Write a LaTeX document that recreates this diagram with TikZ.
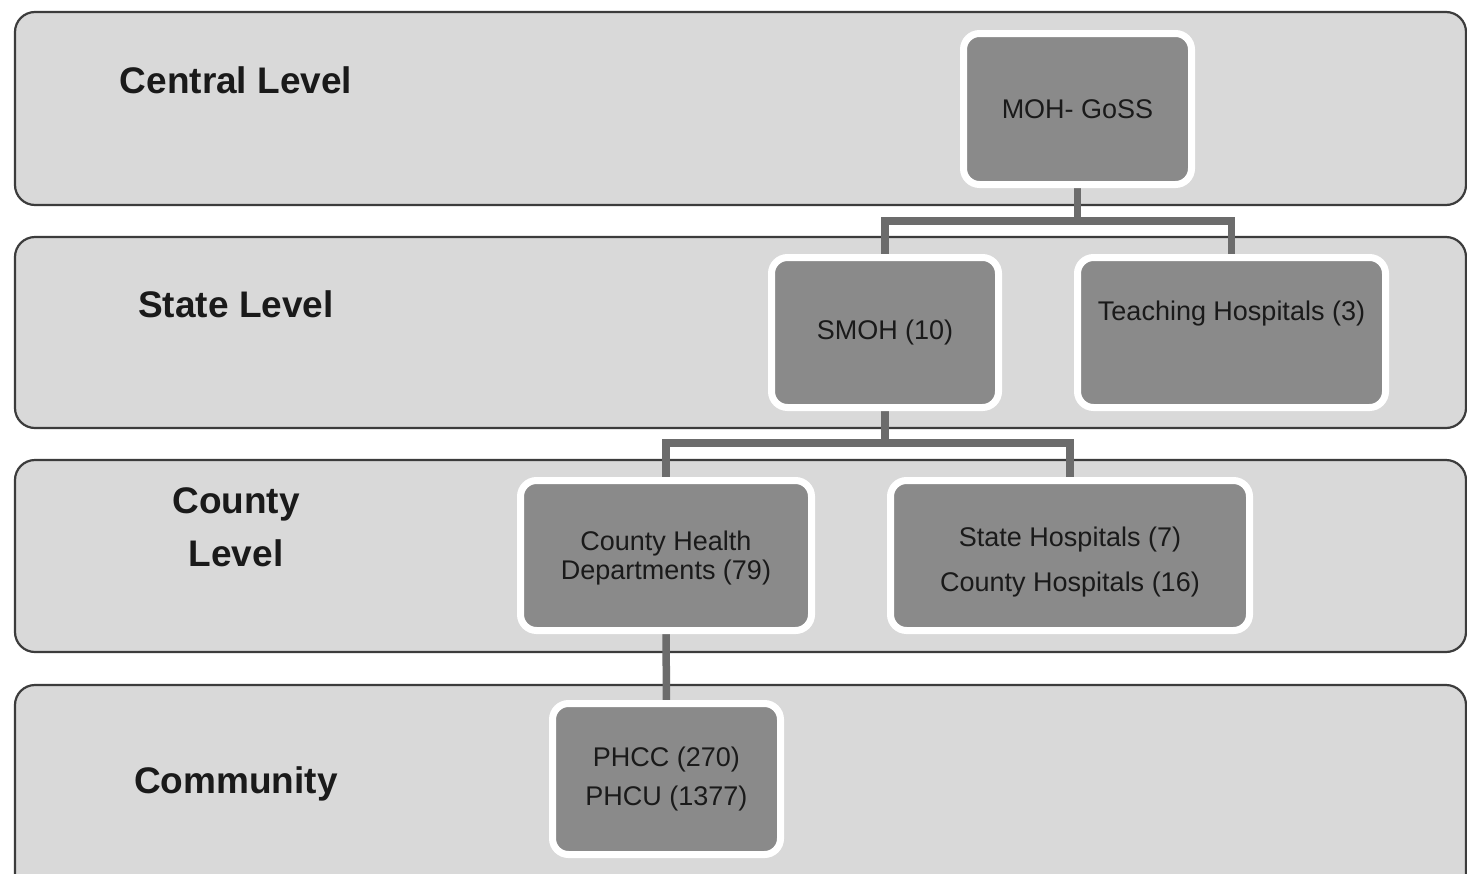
\documentclass[tikz,border=0pt]{standalone}
\usepackage{fontspec}
\setmainfont{Liberation Sans}
\definecolor{bandfill}{HTML}{D9D9D9}
\definecolor{bandline}{HTML}{3C3C3C}
\definecolor{boxfill}{HTML}{8A8A8A}
\definecolor{connc}{HTML}{6C6C6C}
\definecolor{txt}{HTML}{1A1A1A}
\begin{document}
\begin{tikzpicture}[x=1pt,y=-1pt,
  band/.style={fill=bandfill,draw=bandline,line width=2.2pt,rounded corners=20pt},
  lvl/.style={font=\fontsize{37}{53}\selectfont\bfseries,text=txt,align=center},
  orgbox/.style={fill=boxfill,draw=white,line width=7pt,rounded corners=16pt,
    font=\fontsize{27}{29}\selectfont,text=txt,align=center,inner sep=0pt,outer sep=0pt},
  ghost/.style={orgbox,fill=none,draw=none},
  conn/.style={draw=connc,line width=7.5pt}]
\clip (0,0) rectangle (1467,873);
\fill[white] (0,0) rectangle (1467,873);
% bands
\draw[band] (15,12) rectangle (1466,205);
\draw[band] (15,237) rectangle (1466,428);
\draw[band] (15,460) rectangle (1466,652);
\draw[band] (15,685) rectangle (1466,920);
% level labels
\node[lvl] (lcentral) at (236,80) {Central Level};
\node[lvl] (lstate) at (236,304) {State Level};
\node[lvl] (lcounty) at (236,527) {County\\Level};
\node[lvl] (lcomm) at (236,784) {Community};
% connector junctions
\coordinate (j1) at (1077.5,221);
\coordinate (j2) at (885,443);
% box positions
\coordinate (pmoh) at (1077.5,109);
\coordinate (psmoh) at (885,332.5);
\coordinate (pteach) at (1231.5,332.5);
\coordinate (pchd) at (666,555.5);
\coordinate (psh) at (1070,555.5);
\coordinate (pphcc) at (666.5,779);
% outlines used for the connectors (drawn under the boxes)
\path (pmoh) node[ghost,minimum width=228pt,minimum height=151pt] (moh0) {};
\path (psmoh) node[ghost,minimum width=227pt,minimum height=150pt] (smoh0) {};
\path (pteach) node[ghost,minimum width=308pt,minimum height=150pt] (teach0) {};
\path (pchd) node[ghost,minimum width=291pt,minimum height=150pt] (chd0) {};
\path (psh) node[ghost,minimum width=359pt,minimum height=150pt] (sh0) {};
\path (pphcc) node[ghost,minimum width=228pt,minimum height=151pt] (phcc0) {};
\draw[conn] (moh0.south) -- (j1) -| (smoh0.north);
\draw[conn] (j1) -| (teach0.north);
\draw[conn] (smoh0.south) -- (j2) -| (chd0.north);
\draw[conn] (j2) -| (sh0.north);
\draw[conn] (chd0.south) -- (phcc0.north);
% boxes
\node[orgbox,minimum width=228pt,minimum height=151pt] (moh) at (pmoh) {MOH- GoSS};
\node[orgbox,minimum width=227pt,minimum height=150pt] (smoh) at (psmoh) {SMOH (10)};
\node[orgbox,minimum width=308pt,minimum height=150pt,text height=19pt,text depth=44pt] (teach) at (pteach) {Teaching Hospitals (3)};
\node[orgbox,minimum width=291pt,minimum height=150pt] (chd) at (pchd) {\rule{0pt}{25pt}County Health\\Departments (79)};
\node[orgbox,minimum width=359pt,minimum height=150pt,font=\fontsize{27}{45}\selectfont] (sh) at (psh) {\rule{0pt}{32pt}State Hospitals (7)\\County Hospitals (16)};
\node[orgbox,minimum width=228pt,minimum height=151pt,font=\fontsize{27}{39}\selectfont] (phcc) at (pphcc) {PHCC (270)\\PHCU (1377)};
\end{tikzpicture}
\end{document}
